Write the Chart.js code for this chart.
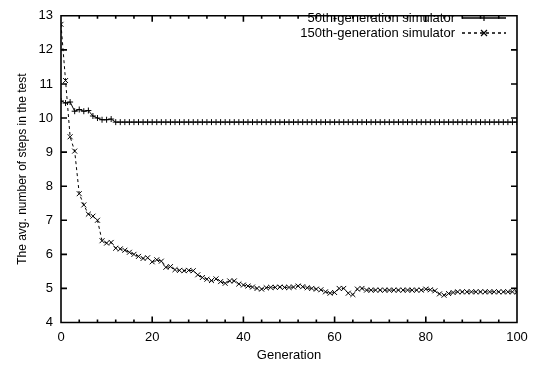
<!DOCTYPE html>
<html>
<head>
<meta charset="utf-8">
<script src="https://cdn.jsdelivr.net/npm/chart.js@4/dist/chart.umd.min.js"></script>
<style>
html, body { margin: 0; padding: 0; background: #fff; }
canvas { display: block; }
</style>
</head>
<body>
<canvas id="graphe" width="536" height="366"></canvas>
<script>
// generations on the x axis
var generations = [
  0, 1, 2, 3, 4, 5, 6, 7, 8, 9, 10, 11, 12, 13, 14, 15, 16, 17, 18, 19,
  20, 21, 22, 23, 24, 25, 26, 27, 28, 29, 30, 31, 32, 33, 34, 35, 36, 37, 38, 39,
  40, 41, 42, 43, 44, 45, 46, 47, 48, 49, 50, 51, 52, 53, 54, 55, 56, 57, 58, 59,
  60, 61, 62, 63, 64, 65, 66, 67, 68, 69, 70, 71, 72, 73, 74, 75, 76, 77, 78, 79,
  80, 81, 82, 83, 84, 85, 86, 87, 88, 89, 90, 91, 92, 93, 94, 95, 96, 97, 98, 99, 100
];
// 50th-generation simulator
var sim50 = [
  10.5, 10.44, 10.47, 10.2, 10.25, 10.2, 10.22, 10.06, 10.0, 9.95,
  9.95, 9.97, 9.88, 9.88, 9.88, 9.88, 9.88, 9.88, 9.88, 9.88,
  9.88, 9.88, 9.88, 9.88, 9.88, 9.88, 9.88, 9.88, 9.88, 9.88,
  9.88, 9.88, 9.88, 9.88, 9.88, 9.88, 9.88, 9.88, 9.88, 9.88,
  9.88, 9.88, 9.88, 9.88, 9.88, 9.88, 9.88, 9.88, 9.88, 9.88,
  9.88, 9.88, 9.88, 9.88, 9.88, 9.88, 9.88, 9.88, 9.88, 9.88,
  9.88, 9.88, 9.88, 9.88, 9.88, 9.88, 9.88, 9.88, 9.88, 9.88,
  9.88, 9.88, 9.88, 9.88, 9.88, 9.88, 9.88, 9.88, 9.88, 9.88,
  9.88, 9.88, 9.88, 9.88, 9.88, 9.88, 9.88, 9.88, 9.88, 9.88,
  9.88, 9.88, 9.88, 9.88, 9.88, 9.88, 9.88, 9.88, 9.88, 9.88, 9.88
];
// 150th-generation simulator
var sim150 = [
  12.75, 11.1, 9.45, 9.03, 7.78, 7.45, 7.18, 7.12, 7.0, 6.4,
  6.33, 6.35, 6.18, 6.16, 6.12, 6.06, 6.0, 5.94, 5.88, 5.9,
  5.78, 5.84, 5.8, 5.62, 5.64, 5.55, 5.53, 5.52, 5.53, 5.52,
  5.4, 5.32, 5.27, 5.23, 5.28, 5.2, 5.15, 5.22, 5.22, 5.13,
  5.1, 5.07, 5.04, 5.0, 4.98, 5.02, 5.03, 5.03, 5.04, 5.03,
  5.03, 5.04, 5.07, 5.05, 5.02, 5.0, 4.98, 4.96, 4.9, 4.86,
  4.88, 5.0, 5.0, 4.86, 4.82, 4.98, 5.0, 4.95, 4.95, 4.95,
  4.95, 4.95, 4.95, 4.95, 4.95, 4.95, 4.95, 4.95, 4.95, 4.95,
  4.98, 4.96, 4.93, 4.84, 4.8, 4.85, 4.88, 4.9, 4.9, 4.9,
  4.9, 4.9, 4.9, 4.9, 4.9, 4.9, 4.9, 4.9, 4.9, 4.9, 4.9
];
var seriesLabels = ["50th-generation simulator", "150th-generation simulator"];
var xTitle = "Generation";
var yTitle = "The avg. number of steps in the test";

var FONT = "'Liberation Sans', Arial, sans-serif";

function toPoints(ys){
  var pts = [];
  for (var i = 0; i < generations.length; i++) {
    pts.push({x: generations[i], y: ys[i]});
  }
  return pts;
}

// box, inward ticks and the legend
var framePlugin = {
  id: 'frame',
  afterDraw: function(chart){
    var ctx = chart.ctx, a = chart.chartArea;
    var xs = chart.scales.x, ys = chart.scales.y;
    var L = a.left, R = a.right, T = a.top, B = a.bottom;
    ctx.save();
    ctx.strokeStyle = '#000';
    ctx.fillStyle = '#000';
    ctx.lineWidth = 1.6;
    ctx.setLineDash([]);
    ctx.beginPath();
    ctx.rect(L, T, R - L, B - T);
    //x ticks, minor every 4, major every 20
    for (var g = 0; g <= 100; g += 4) {
      var px = xs.getPixelForValue(g);
      var len = (g % 20 === 0) ? 6 : 3;
      ctx.moveTo(px, B); ctx.lineTo(px, B - len);
      ctx.moveTo(px, T); ctx.lineTo(px, T + len);
    }
    //y ticks both sides
    for (var v = 4; v <= 13; v++) {
      var py = ys.getPixelForValue(v);
      ctx.moveTo(L, py); ctx.lineTo(L + 6, py);
      ctx.moveTo(R, py); ctx.lineTo(R - 6, py);
    }
    ctx.stroke();

    //legend, text right aligned with sample on the right
    ctx.font = '13px ' + FONT;
    ctx.textAlign = 'right';
    ctx.textBaseline = 'middle';
    var rows = [18, 33];
    chart.data.datasets.forEach(function(ds, i){
      var y = rows[i];
      ctx.fillText(ds.label, 455, y);
      ctx.lineWidth = 1.6;
      ctx.setLineDash(ds.borderDash || []);
      ctx.beginPath();
      ctx.moveTo(462, y); ctx.lineTo(506, y);
      ctx.stroke();
      ctx.setLineDash([]);
      ctx.lineWidth = 1.2;
      ctx.beginPath();
      if (ds.pointStyle === 'cross') {
        ctx.moveTo(484, y - 3); ctx.lineTo(484, y + 3);
      } else {
        ctx.moveTo(481, y - 3); ctx.lineTo(487, y + 3);
        ctx.moveTo(487, y - 3); ctx.lineTo(481, y + 3);
      }
      ctx.stroke();
    });
    ctx.restore();
  }
};

var tickFont = { family: FONT, size: 13 };

var myChart = new Chart(document.getElementById('graphe').getContext('2d'), {
  type: 'line',
  data: {
    datasets: [
      {
        label: seriesLabels[0],
        data: toPoints(sim50),
        borderColor: '#000',
        backgroundColor: '#000',
        borderWidth: 1,
        pointStyle: 'cross',
        pointRadius: 3,
        pointBorderWidth: 1,
        tension: 0
      },
      {
        label: seriesLabels[1],
        data: toPoints(sim150),
        borderColor: '#000',
        backgroundColor: '#000',
        borderWidth: 1,
        borderDash: [3, 3],
        pointStyle: 'crossRot',
        pointRadius: 3.5,
        pointBorderWidth: 1,
        tension: 0
      }
    ]
  },
  options: {
    responsive: false,
    animation: false,
    devicePixelRatio: 1,
    layout: { padding: { left: 0, right: 19, top: 7, bottom: 0 } },
    plugins: { legend: { display: false }, tooltip: { enabled: false } },
    scales: {
      x: {
        type: 'linear',
        min: 0, max: 100,
        grid: { display: false, drawTicks: false },
        border: { display: false },
        ticks: { stepSize: 20, color: '#000', padding: 7, font: tickFont, maxRotation: 0 },
        title: { display: true, text: xTitle, color: '#000', font: tickFont, padding: { top: 0, bottom: 3 } },
        afterFit: function(scale){ scale.height = 43.5; }
      },
      y: {
        min: 4, max: 13,
        grid: { display: false, drawTicks: false },
        border: { display: false },
        ticks: { stepSize: 1, color: '#000', padding: 8, font: tickFont },
        title: { display: true, text: yTitle, color: '#000', font: { family: FONT, size: 12 }, padding: { top: 15, bottom: 0 } },
        afterFit: function(scale){ scale.width = 61; }
      }
    }
  },
  plugins: [framePlugin]
});
</script>
</body>
</html>
